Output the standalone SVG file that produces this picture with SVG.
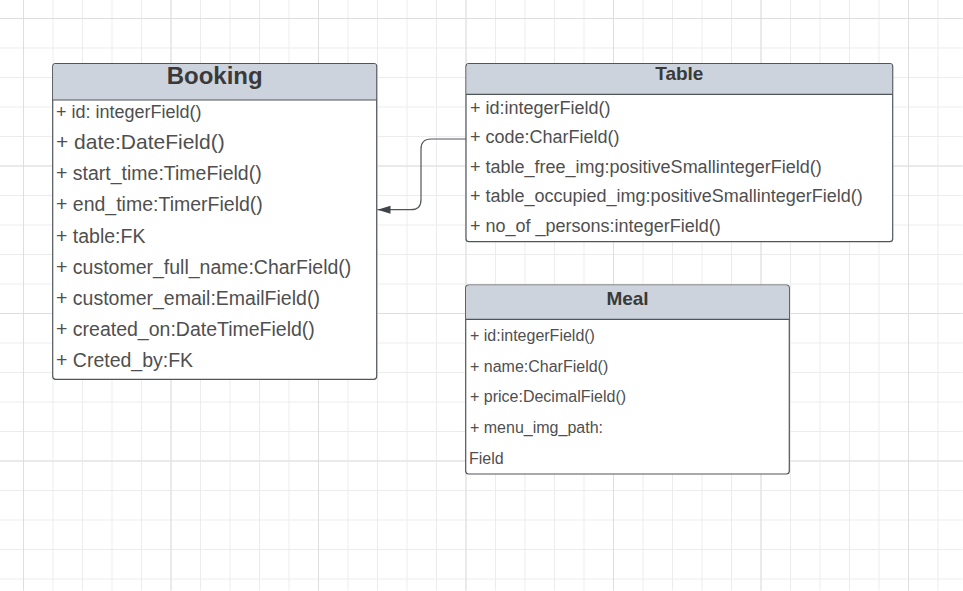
<svg xmlns="http://www.w3.org/2000/svg" width="963" height="591" viewBox="0 0 963 591">
<style>
.box{fill:#ffffff;stroke:#50555c;stroke-width:1.2}
.hdr{fill:#cdd3dc;stroke:none}
.sep{stroke:#50555c;stroke-width:1.2}
.title{font-family:"Liberation Sans",Arial,sans-serif;font-weight:bold;fill:#3a3a3a;text-anchor:middle}
.row{font-family:"Liberation Sans",Arial,sans-serif;fill:#4f4f4f}
.conn{fill:none;stroke:#50555c;stroke-width:1.2}
</style>
<defs>
<pattern id="minor" patternUnits="userSpaceOnUse" x="23.5" y="18.5" width="29.5" height="29.5">
<path d="M0.5 0V29.5M0 0.5H29.5" stroke="#ececec" stroke-width="1" fill="none"/>
</pattern>
<pattern id="major" patternUnits="userSpaceOnUse" x="23.5" y="18.5" width="147.5" height="147.5">
<path d="M0.5 0V147.5M0 0.5H147.5" stroke="#dedede" stroke-width="1" fill="none"/>
</pattern>
<marker id="arr" markerUnits="userSpaceOnUse" markerWidth="14" markerHeight="10" refX="13" refY="4" orient="auto">
<path d="M0 0L13 4L0 8Z" fill="#3f444b"/>
</marker>
</defs>
<rect width="963" height="591" fill="#ffffff"/>
<rect x="0" y="0" width="963" height="591" fill="url(#minor)" transform="translate(-0.5,-0.5)"/>
<rect x="0" y="0" width="963" height="591" fill="url(#major)" transform="translate(-0.5,-0.5)"/>

<g id="connectors">
<path class="conn" d="M466 139H431Q421 139 421 149V199.7Q421 209.7 411 209.7H377.5" marker-end="url(#arr)"/>
</g>

<g id="booking">
<rect class="box" x="52.7" y="63.5" width="324" height="315.8" rx="3"/>
<path class="hdr" d="M53.3 100V66.5Q53.3 64.1 55.7 64.1H373.7Q376.1 64.1 376.1 66.5V100Z"/>
<line class="sep" x1="52.7" y1="100" x2="376.7" y2="100"/>
<text class="title" x="214.7" y="84" font-size="24">Booking</text>
<text class="row" x="56" y="118" font-size="18">+ id: integerField()</text>
<text class="row" x="56" y="149" font-size="21">+ date:DateField()</text>
<text class="row" x="56" y="180" font-size="19.5">+ start_time:TimeField()</text>
<text class="row" x="56" y="211" font-size="19.5">+ end_time:TimerField()</text>
<text class="row" x="56" y="243" font-size="19.5">+ table:FK</text>
<text class="row" x="56" y="274" font-size="19.5">+ customer_full_name:CharField()</text>
<text class="row" x="56" y="305" font-size="19.5">+ customer_email:EmailField()</text>
<text class="row" x="56" y="335.5" font-size="19.5">+ created_on:DateTimeField()</text>
<text class="row" x="56" y="366.5" font-size="19.5">+ Creted_by:FK</text>
</g>

<g id="table">
<rect class="box" x="466" y="63.5" width="426.7" height="178.2" rx="3"/>
<path class="hdr" d="M466.6 94.3V66.5Q466.6 64.1 469 64.1H889.7Q892.1 64.1 892.1 66.5V94.3Z"/>
<line class="sep" x1="466" y1="94.3" x2="892.7" y2="94.3"/>
<text class="title" x="679.3" y="80" font-size="19">Table</text>
<text class="row" x="470" y="113.5" font-size="18">+ id:integerField()</text>
<text class="row" x="470" y="143" font-size="18">+ code:CharField()</text>
<text class="row" x="470" y="172.5" font-size="18">+ table_free_img:positiveSmallintegerField()</text>
<text class="row" x="470" y="202" font-size="18">+ table_occupied_img:positiveSmallintegerField()</text>
<text class="row" x="470" y="231.5" font-size="18">+ no_of _persons:integerField()</text>
</g>

<g id="meal">
<rect class="box" x="465.7" y="285" width="323.6" height="189" rx="3"/>
<path class="hdr" d="M466.3 319.3V288Q466.3 285.6 468.7 285.6H786.3Q788.7 285.6 788.7 288V319.3Z"/>
<line class="sep" x1="465.7" y1="319.3" x2="789.3" y2="319.3"/>
<text class="title" x="627.5" y="305" font-size="19">Meal</text>
<text class="row" x="470" y="340.5" font-size="16">+ id:integerField()</text>
<text class="row" x="470" y="371.5" font-size="16">+ name:CharField()</text>
<text class="row" x="470" y="401.5" font-size="16">+ price:DecimalField()</text>
<text class="row" x="470" y="432.5" font-size="16">+ menu_img_path:</text>
<text class="row" x="469" y="464" font-size="16">Field</text>
</g>
</svg>
